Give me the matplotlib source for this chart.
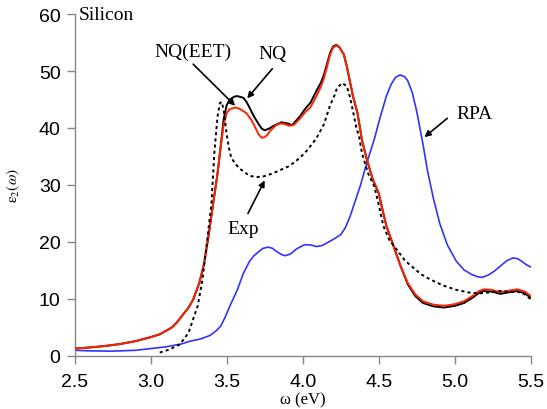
import matplotlib
matplotlib.use("Agg")
import matplotlib.pyplot as plt

# ---------------- data ----------------
rpa_x = [2.5, 2.6, 2.75, 2.9, 3.0, 3.1, 3.2, 3.26, 3.33, 3.39, 3.43, 3.46, 3.49, 3.52, 3.57,
         3.61, 3.65, 3.68, 3.71, 3.74, 3.775, 3.80, 3.83, 3.86, 3.885, 3.92, 3.96, 4.01, 4.05,
         4.09, 4.13, 4.17, 4.21, 4.25, 4.28, 4.31, 4.34, 4.38, 4.42, 4.47, 4.51, 4.55, 4.58,
         4.61, 4.64, 4.67, 4.69, 4.72, 4.75, 4.79, 4.82, 4.86, 4.90, 4.95, 5.01, 5.06, 5.11,
         5.15, 5.18, 5.22, 5.26, 5.30, 5.34, 5.38, 5.41, 5.44, 5.47, 5.50]
rpa_y = [1.0, 0.9, 0.85, 1.0, 1.3, 1.6, 2.1, 2.6, 3.0, 3.6, 4.4, 5.2, 6.8, 8.7, 11.6,
         14.5, 16.6, 17.6, 18.3, 18.9, 19.1, 18.9, 18.3, 17.8, 17.6, 17.9, 18.8, 19.5, 19.5,
         19.2, 19.4, 20.0, 20.6, 21.3, 22.5, 24.4, 26.8, 30.0, 33.8, 38.0, 42.0, 45.6, 47.6,
         48.9, 49.3, 49.0, 48.3, 46.2, 42.8, 37.2, 32.5, 27.5, 23.3, 19.5, 16.6, 15.1, 14.3,
         13.9, 13.8, 14.2, 14.9, 15.8, 16.7, 17.2, 17.1, 16.6, 16.0, 15.6]

eet_x = [2.5, 2.6, 2.7, 2.8, 2.9, 3.0, 3.06, 3.1, 3.14, 3.17, 3.22, 3.25, 3.28, 3.32, 3.35,
         3.38, 3.41, 3.44, 3.46, 3.48, 3.50, 3.52, 3.56, 3.59, 3.63, 3.66, 3.68, 3.71, 3.73,
         3.75, 3.77, 3.79, 3.82, 3.85, 3.88, 3.91, 3.94, 3.98, 4.02, 4.05, 4.09, 4.12, 4.14,
         4.16, 4.18, 4.20, 4.22, 4.24, 4.27, 4.29, 4.31, 4.33, 4.36, 4.39, 4.42, 4.46, 4.50,
         4.53, 4.55, 4.59, 4.64, 4.69, 4.74, 4.79, 4.86, 4.93, 5.00, 5.06, 5.12, 5.16, 5.19,
         5.24, 5.30, 5.36, 5.41, 5.46, 5.50]
eet_y = [1.3, 1.5, 1.75, 2.1, 2.6, 3.3, 3.8, 4.4, 5.0, 5.8, 7.5, 8.5, 9.9, 12.8, 16.0,
         20.9, 26.5, 32.0, 36.6, 40.5, 42.6, 43.3, 43.6, 43.3, 42.6, 41.5, 40.5, 38.9, 38.3,
         38.4, 38.9, 39.6, 40.4, 40.8, 40.7, 40.4, 40.5, 41.6, 42.9, 43.6, 45.6, 47.3, 48.8,
         50.8, 52.9, 54.1, 54.5, 54.2, 52.9, 50.8, 48.2, 45.6, 42.6, 37.8, 34.6, 31.0, 28.5,
         25.0, 22.8, 19.8, 16.0, 12.8, 10.8, 9.6, 9.0, 8.8, 9.1, 9.6, 10.6, 11.4, 11.7,
         11.6, 11.2, 11.5, 11.7, 11.3, 10.5]

nq_x = [2.5, 2.6, 2.7, 2.8, 2.9, 3.0, 3.06, 3.1, 3.14, 3.17, 3.22, 3.25, 3.28, 3.32, 3.35,
        3.38, 3.41, 3.44, 3.46, 3.48, 3.50, 3.52, 3.55, 3.57, 3.61, 3.63, 3.65, 3.68, 3.71,
        3.73, 3.75, 3.78, 3.81, 3.86, 3.90, 3.93, 3.98, 4.02, 4.05, 4.09, 4.12, 4.14, 4.16,
        4.18, 4.20, 4.22, 4.24, 4.27, 4.29, 4.31, 4.33, 4.36, 4.39, 4.42, 4.46, 4.50, 4.53,
        4.55, 4.59, 4.64, 4.69, 4.74, 4.79, 4.86, 4.93, 5.00, 5.06, 5.12, 5.16, 5.19, 5.24,
        5.30, 5.36, 5.41, 5.46, 5.50]
nq_y = [1.3, 1.5, 1.75, 2.1, 2.6, 3.3, 3.8, 4.4, 5.0, 5.8, 7.5, 8.5, 9.9, 12.8, 16.0,
        20.9, 26.5, 32.0, 36.6, 41.5, 44.0, 45.0, 45.5, 45.6, 45.3, 44.6, 43.6, 42.0, 40.7,
        39.9, 39.6, 39.9, 40.4, 41.0, 40.8, 40.5, 42.0, 43.5, 44.4, 46.5, 48.0, 49.4, 51.3,
        53.2, 54.3, 54.6, 54.2, 52.9, 50.8, 48.2, 45.6, 42.6, 37.8, 34.6, 31.0, 28.5, 25.0,
        22.8, 19.8, 16.0, 12.6, 10.5, 9.3, 8.7, 8.5, 8.8, 9.3, 10.3, 11.1, 11.4, 11.3,
        10.9, 11.2, 11.4, 11.0, 10.2]

exp_x = [3.06, 3.12, 3.19, 3.22, 3.25, 3.28, 3.31, 3.34, 3.37, 3.40, 3.42, 3.44, 3.455, 3.465,
         3.48, 3.50, 3.515, 3.53, 3.56, 3.59, 3.65, 3.70, 3.74, 3.80, 3.85, 3.91, 3.96, 4.01,
         4.05, 4.09, 4.14, 4.18, 4.21, 4.225, 4.26, 4.29, 4.31, 4.33, 4.35, 4.37, 4.39, 4.43,
         4.47, 4.50, 4.53, 4.57, 4.62, 4.67, 4.73, 4.78, 4.84, 4.92, 5.01, 5.10, 5.17, 5.24,
         5.30, 5.36, 5.41, 5.46, 5.50]
exp_y = [0.6, 1.1, 2.0, 3.0, 4.1, 6.5, 8.8, 13.2, 19.8, 26.8, 36.0, 42.0, 44.3, 44.6,
         43.3, 38.9, 36.5, 34.8, 33.6, 32.8, 31.6, 31.4, 31.5, 32.0, 32.6, 33.3, 34.3, 35.5,
         36.8, 38.2, 40.7, 44.0, 45.8, 47.0, 47.9, 47.3, 45.5, 43.0, 40.3, 38.5, 35.5, 32.0,
         29.8, 26.5, 22.8, 20.3, 18.6, 16.8, 15.4, 14.3, 13.4, 12.4, 11.6, 11.1, 11.0, 11.2,
         11.4, 11.2, 11.3, 10.8, 9.9]

xticks = [2.5, 3.0, 3.5, 4.0, 4.5, 5.0, 5.5]
xtick_labels = ["2.5", "3.0", "3.5", "4.0", "4.5", "5.0", "5.5"]
yticks = [0, 10, 20, 30, 40, 50, 60]

# ---------------- figure ----------------
plt.rcParams['mathtext.fontset'] = 'stix'
serif = 'Liberation Serif'
sans = 'Liberation Sans'

fig = plt.figure(figsize=(5.47, 4.10), dpi=100)
ax = fig.add_axes([0.1362, 0.1293, 0.8345, 0.8341])

common = dict(solid_joinstyle='round', solid_capstyle='round')
ax.plot(rpa_x, rpa_y, color='#3333ff', lw=1.2, zorder=2, **common)
ax.plot(nq_x, nq_y, color='black', lw=1.4, zorder=3, **common)
ax.plot(eet_x, eet_y, color='#ff2200', lw=1.4, zorder=4, **common)
ax.plot(exp_x, exp_y, color='black', lw=1.4, ls=(0, (1.6, 1.6)), zorder=5)

ax.set_xlim(2.5, 5.5)
ax.set_ylim(0, 60)
ax.set_xticks(xticks)
ax.set_xticklabels(xtick_labels)
ax.set_yticks(yticks)

for s in ['top', 'right']:
    ax.spines[s].set_visible(False)
for s in ['left', 'bottom']:
    ax.spines[s].set_color('#888888')
    ax.spines[s].set_linewidth(1.0)
ax.tick_params(axis='both', direction='out', length=6, width=1.0, color='#888888',
               labelsize=14)
ax.tick_params(axis='x', pad=6)
ax.tick_params(axis='y', pad=4)
for lab in ax.get_xticklabels() + ax.get_yticklabels():
    lab.set_family(sans)

ax.set_xlabel('ω (eV)', family=serif, fontsize=12, labelpad=1)
ax.set_ylabel(r'$\mathrm{\varepsilon}_{2}(\omega)$', fontsize=11, labelpad=12)

ax.text(2.53, 60, 'Silicon', family=serif, fontsize=14, va='center', ha='left')

arrow = dict(arrowstyle='-|>', color='black', lw=1.2, mutation_scale=9, shrinkA=0, shrinkB=0)
ax.text(3.28, 53.5, 'NQ(EET)', family=serif, fontsize=14, ha='center', va='center')
ax.annotate('', xy=(3.556, 43.9), xytext=(3.28, 51.2), arrowprops=arrow)
ax.text(3.80, 53.0, 'NQ', family=serif, fontsize=14, ha='center', va='center')
ax.annotate('', xy=(3.635, 45.2), xytext=(3.80, 50.4), arrowprops=arrow)
ax.text(3.61, 22.3, 'Exp', family=serif, fontsize=14, ha='center', va='center')
ax.annotate('', xy=(3.75, 30.8), xytext=(3.64, 25.0), arrowprops=arrow)
ax.text(5.13, 42.5, 'RPA', family=serif, fontsize=14, ha='center', va='center')
ax.annotate('', xy=(4.80, 38.4), xytext=(4.95, 41.7), arrowprops=arrow)

fig.savefig('out.png', dpi=100)
